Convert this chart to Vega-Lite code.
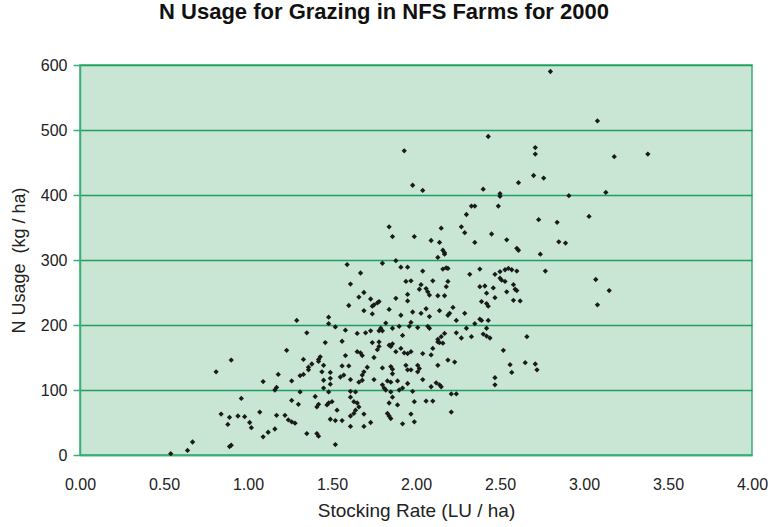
{
  "$schema": "https://vega.github.io/schema/vega-lite/v6.json",
  "width": 672,
  "height": 390,
  "autosize": "none",
  "padding": {"left": 80, "top": 65, "right": 20, "bottom": 72},
  "background": "white",
  "config": {
    "font": "Liberation Sans",
    "view": {"fill": "#c9e6d5", "stroke": "#3aae74", "strokeWidth": 1.5}
  },
  "title": {
    "text": "N Usage for Grazing in NFS Farms for 2000",
    "fontSize": 22,
    "fontWeight": "bold",
    "color": "#111",
    "anchor": "middle",
    "dx": -32,
    "offset": 33
  },
  "data": {"values": [
    {"x":0.54,"y":2},{"x":0.64,"y":7},{"x":0.67,"y":20},{"x":0.81,"y":128},{"x":0.90,"y":146},{"x":0.84,"y":63},{"x":0.89,"y":58},{"x":0.94,"y":60},{"x":0.98,"y":59},{"x":0.88,"y":47},{"x":0.96,"y":87},{"x":1.01,"y":50},{"x":1.02,"y":42},{"x":0.89,"y":13},{"x":0.90,"y":15},{"x":1.07,"y":66},{"x":1.09,"y":113},{"x":1.09,"y":28},{"x":1.12,"y":35},{"x":1.16,"y":40},{"x":1.16,"y":100},{"x":1.17,"y":104},{"x":1.17,"y":61},{"x":1.18,"y":124},{"x":1.22,"y":61},{"x":1.23,"y":161},{"x":1.24,"y":54},{"x":1.26,"y":51},{"x":1.28,"y":49},{"x":1.26,"y":114},{"x":1.26,"y":84},{"x":1.31,"y":122},{"x":1.31,"y":97},{"x":1.30,"y":78},
    {"x":1.59,"y":293},{"x":1.67,"y":280},{"x":1.61,"y":263},{"x":1.69,"y":250},{"x":1.66,"y":243},{"x":1.73,"y":240},{"x":1.74,"y":229},{"x":1.75,"y":231},{"x":1.77,"y":234},{"x":1.78,"y":236},{"x":1.60,"y":230},{"x":1.69,"y":222},{"x":1.74,"y":217},{"x":1.29,"y":207},{"x":1.48,"y":212},{"x":1.48,"y":202},{"x":1.52,"y":197},{"x":1.58,"y":192},{"x":1.35,"y":188},{"x":1.65,"y":187},{"x":1.70,"y":188},{"x":1.73,"y":191},{"x":1.78,"y":191},{"x":1.46,"y":173},{"x":1.56,"y":175},{"x":1.74,"y":173},{"x":1.78,"y":174},
    {"x":1.33,"y":147},{"x":1.43,"y":151},{"x":1.42,"y":147},{"x":1.42,"y":144},{"x":1.58,"y":153},{"x":1.65,"y":159},{"x":1.67,"y":157},{"x":1.68,"y":153},{"x":1.75,"y":150},{"x":1.45,"y":138},{"x":1.56,"y":137},{"x":1.60,"y":137},{"x":1.38,"y":140},{"x":1.36,"y":135},{"x":1.36,"y":131},{"x":1.44,"y":128},{"x":1.49,"y":127},{"x":1.71,"y":135},{"x":1.69,"y":128},{"x":1.68,"y":123},{"x":1.33,"y":124},{"x":1.57,"y":123},{"x":1.55,"y":120},{"x":1.49,"y":118},{"x":1.45,"y":115},{"x":1.61,"y":116},{"x":1.68,"y":115},{"x":1.66,"y":112},{"x":1.75,"y":116},{"x":1.49,"y":109},{"x":1.45,"y":103},{"x":1.48,"y":97},{"x":1.61,"y":98},{"x":1.64,"y":97},{"x":1.40,"y":90},{"x":1.61,"y":89},{"x":1.42,"y":78},{"x":1.41,"y":74},{"x":1.50,"y":82},{"x":1.48,"y":80},{"x":1.47,"y":77},{"x":1.63,"y":82},{"x":1.65,"y":80},{"x":1.66,"y":74},{"x":1.64,"y":69},{"x":1.63,"y":64},{"x":1.61,"y":60},{"x":1.53,"y":69},{"x":1.69,"y":63},{"x":1.49,"y":55},{"x":1.52,"y":53},{"x":1.56,"y":53},{"x":1.73,"y":50},{"x":1.69,"y":44},{"x":1.61,"y":44},{"x":1.35,"y":33},{"x":1.41,"y":33},{"x":1.42,"y":29},{"x":1.52,"y":16},
    {"x":2.30,"y":370},{"x":1.84,"y":351},{"x":2.15,"y":349},{"x":2.27,"y":351},{"x":2.29,"y":342},{"x":1.86,"y":336},{"x":1.99,"y":336},{"x":2.09,"y":330},{"x":2.14,"y":327},{"x":2.16,"y":315},{"x":2.17,"y":311},{"x":2.17,"y":309},{"x":2.13,"y":304},{"x":1.80,"y":295},{"x":1.88,"y":299},{"x":1.91,"y":289},{"x":1.95,"y":289},{"x":2.16,"y":286},{"x":2.18,"y":288},{"x":2.19,"y":287},{"x":2.04,"y":283},{"x":2.32,"y":278},{"x":1.94,"y":267},{"x":1.97,"y":268},{"x":2.10,"y":268},{"x":2.19,"y":267},{"x":2.18,"y":259},{"x":2.03,"y":262},{"x":2.02,"y":255},{"x":2.06,"y":256},{"x":2.07,"y":251},{"x":2.08,"y":246},{"x":1.95,"y":247},{"x":1.88,"y":241},{"x":2.13,"y":245},{"x":2.17,"y":245},{"x":1.95,"y":237},{"x":2.22,"y":227},{"x":1.84,"y":224},{"x":2.06,"y":225},{"x":1.98,"y":220},{"x":2.03,"y":218},{"x":2.14,"y":222},{"x":2.20,"y":218},{"x":2.19,"y":215},{"x":1.91,"y":215},{"x":2.29,"y":218},{"x":2.08,"y":213},{"x":2.24,"y":207},{"x":1.82,"y":203},{"x":1.79,"y":195},{"x":1.97,"y":204},{"x":1.96,"y":198},{"x":1.90,"y":198},{"x":2.01,"y":196},{"x":2.07,"y":198},{"x":2.08,"y":195},
    {"x":1.86,"y":195},{"x":1.80,"y":191},{"x":2.30,"y":195},{"x":1.92,"y":184},{"x":2.24,"y":188},{"x":2.27,"y":180},{"x":2.17,"y":187},{"x":2.15,"y":182},{"x":2.13,"y":178},{"x":2.13,"y":174},{"x":2.14,"y":173},{"x":2.16,"y":172},{"x":1.78,"y":167},{"x":1.77,"y":162},{"x":1.84,"y":169},{"x":1.86,"y":171},{"x":1.85,"y":167},{"x":1.91,"y":164},{"x":2.10,"y":164},{"x":1.88,"y":159},{"x":1.93,"y":157},{"x":1.95,"y":156},{"x":1.97,"y":159},{"x":2.04,"y":156},{"x":2.09,"y":154},{"x":2.19,"y":146},{"x":2.23,"y":143},{"x":2.13,"y":138},{"x":1.85,"y":136},{"x":1.86,"y":132},{"x":1.94,"y":138},{"x":1.95,"y":131},{"x":1.97,"y":131},{"x":2.01,"y":138},{"x":2.02,"y":133},{"x":2.01,"y":128},{"x":1.80,"y":134},{"x":1.86,"y":125},{"x":1.83,"y":114},{"x":1.85,"y":112},{"x":1.89,"y":114},{"x":2.04,"y":116},{"x":2.12,"y":111},{"x":2.14,"y":108},{"x":2.15,"y":105},{"x":1.95,"y":110},{"x":2.09,"y":105},{"x":1.80,"y":108},{"x":1.81,"y":103},{"x":1.82,"y":100},{"x":1.92,"y":103},{"x":1.90,"y":100},{"x":1.98,"y":98},{"x":1.85,"y":97},{"x":1.86,"y":89},{"x":2.21,"y":94},{"x":2.24,"y":94},{"x":1.84,"y":80},{"x":1.99,"y":82},{"x":2.06,"y":83},{"x":2.10,"y":83},{"x":1.89,"y":77},{"x":2.21,"y":66},{"x":1.83,"y":64},{"x":1.84,"y":60},{"x":1.85,"y":56},{"x":1.97,"y":63},{"x":1.99,"y":51},{"x":1.92,"y":48},
    {"x":2.70,"y":430},{"x":2.76,"y":426},{"x":2.61,"y":419},{"x":2.40,"y":409},{"x":2.50,"y":402},{"x":2.50,"y":398},{"x":2.33,"y":383},{"x":2.35,"y":383},{"x":2.49,"y":383},{"x":2.73,"y":362},{"x":2.84,"y":358},{"x":2.45,"y":340},{"x":2.54,"y":331},{"x":2.35,"y":327},{"x":2.60,"y":318},{"x":2.61,"y":315},{"x":2.85,"y":328},{"x":2.74,"y":309},{"x":2.38,"y":286},{"x":2.47,"y":278},{"x":2.50,"y":282},{"x":2.53,"y":285},{"x":2.55,"y":287},{"x":2.57,"y":285},{"x":2.60,"y":283},{"x":2.77,"y":283},{"x":2.50,"y":272},{"x":2.51,"y":269},{"x":2.53,"y":267},{"x":2.38,"y":259},{"x":2.41,"y":260},{"x":2.46,"y":257},{"x":2.58,"y":262},{"x":2.59,"y":255},{"x":2.60,"y":253},{"x":2.54,"y":251},{"x":2.42,"y":249},{"x":2.47,"y":242},
    {"x":2.58,"y":238},{"x":2.62,"y":237},{"x":2.39,"y":236},{"x":2.42,"y":233},{"x":2.43,"y":229},{"x":2.38,"y":209},{"x":2.39,"y":207},{"x":2.43,"y":207},{"x":2.35,"y":202},{"x":2.42,"y":195},{"x":2.40,"y":186},{"x":2.42,"y":183},{"x":2.44,"y":180},{"x":2.33,"y":182},{"x":2.66,"y":182},{"x":2.52,"y":161},{"x":2.56,"y":139},{"x":2.57,"y":127},{"x":2.65,"y":142},{"x":2.71,"y":140},{"x":2.72,"y":131},{"x":2.47,"y":119},{"x":2.47,"y":108},
    {"x":2.80,"y":590},{"x":3.08,"y":514},{"x":3.18,"y":459},{"x":3.38,"y":463},{"x":2.91,"y":399},{"x":3.13,"y":404},{"x":3.03,"y":367},{"x":2.89,"y":326},
    {"x":3.07,"y":270},{"x":3.15,"y":253},{"x":3.08,"y":231},
    {"x":2.43,"y":490},{"x":1.93,"y":468},{"x":2.71,"y":473},{"x":2.71,"y":463},{"x":1.98,"y":415},{"x":2.04,"y":407}
  ]},
  "mark": {"type": "point", "shape": "diamond", "filled": true, "size": 28, "color": "#1a1a1a", "opacity": 1},
  "encoding": {
    "x": {
      "field": "x", "type": "quantitative",
      "scale": {"domain": [0, 4], "nice": false, "zero": true},
      "axis": {
        "title": "Stocking Rate (LU / ha)",
        "values": [0, 0.5, 1, 1.5, 2, 2.5, 3, 3.5, 4],
        "format": ".2f",
        "grid": false,
        "ticks": false,
        "labelPadding": 21,
        "labelFontSize": 16,
        "labelColor": "#222",
        "labelFont": "Liberation Sans",
        "labelOverlap": false,
        "labelFlush": false,
        "domainColor": "#3aae74",
        "domainWidth": 1.5,
        "titleFontSize": 19,
        "titleFontWeight": "normal",
        "titleColor": "#222",
        "titlePadding": 9
      }
    },
    "y": {
      "field": "y", "type": "quantitative",
      "scale": {"domain": [0, 600], "nice": false},
      "axis": {
        "title": "N Usage\u00a0 (kg / ha)",
        "values": [0, 100, 200, 300, 400, 500, 600],
        "grid": true,
        "gridColor": "#1fa060",
        "gridWidth": 1.5,
        "tickColor": "#3aae74",
        "tickSize": 7,
        "tickWidth": 1.5,
        "labelPadding": 6,
        "labelFontSize": 16,
        "labelColor": "#222",
        "labelFont": "Liberation Sans",
        "domainColor": "#3aae74",
        "domainWidth": 1.5,
        "titleFontSize": 18,
        "titleFontWeight": "normal",
        "titleColor": "#222",
        "titlePadding": 12
      }
    }
  }
}
